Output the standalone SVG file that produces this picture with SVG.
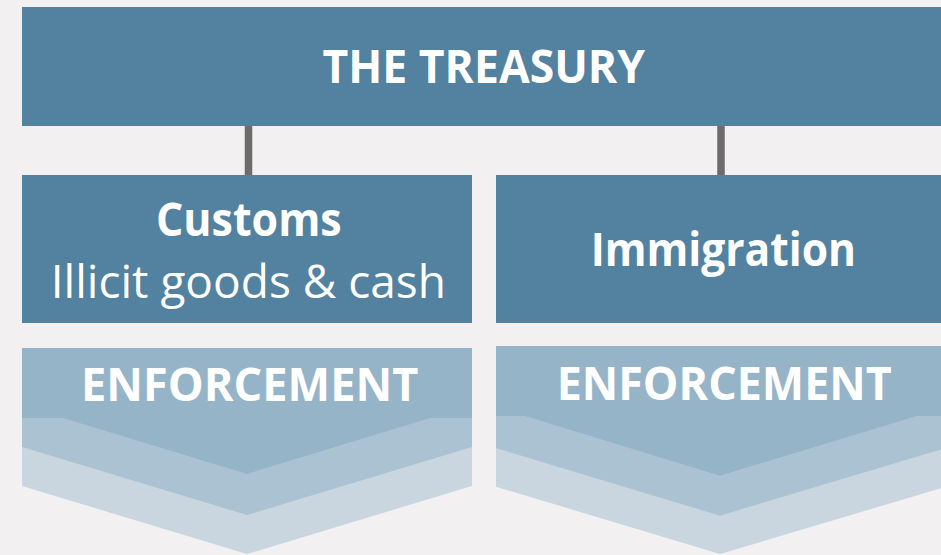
<svg xmlns="http://www.w3.org/2000/svg" width="941" height="555" viewBox="0 0 941 555">
<style>
.box{fill:#52829f}
.conn{stroke:#6e6b6b;stroke-width:7.5;fill:none}
.t{font-family:"Open Sans","Noto Sans","Liberation Sans",sans-serif;fill:#ffffff;font-size:46px}
.b{font-weight:bold}
.dark{fill:#96b4c8}
.mid{fill:#abc2d2}
.light{fill:#c9d6df}
</style>
<rect width="941" height="555" fill="#f2f0f0"/>
<g id="connectors">
<line class="conn" x1="248.5" y1="125" x2="248.5" y2="176"/>
<line class="conn" x1="721" y1="125" x2="721" y2="176"/>
</g>
<g id="treasury">
<rect class="box" x="22" y="7" width="925" height="119"/>
<text class="t b" x="322.5" y="82.7" textLength="322.5" lengthAdjust="spacingAndGlyphs">THE TREASURY</text>
</g>
<g id="customs">
<rect class="box" x="22" y="175" width="450" height="148"/>
<text class="t b" x="156" y="236" textLength="185.7" lengthAdjust="spacingAndGlyphs">Customs</text>
<text class="t" x="50.7" y="298.3" textLength="395.3" lengthAdjust="spacingAndGlyphs">Illicit goods &amp; cash</text>
</g>
<g id="immigration">
<rect class="box" x="496" y="175" width="451" height="148"/>
<text class="t b" x="590.7" y="265.7" textLength="265.3" lengthAdjust="spacingAndGlyphs">Immigration</text>
</g>
<g id="enforcement-left">
<polygon class="light" points="22,348 472,348 472,486 247,554 22,486"/>
<polygon class="mid" points="22,348 472,348 472,447 247,515 22,447"/>
<polygon class="dark" points="22,348 472,348 472,418 430,418 247,474 63,418 22,418"/>
<text class="t b" x="81" y="401" textLength="337.3" lengthAdjust="spacingAndGlyphs">ENFORCEMENT</text>
</g>
<g id="enforcement-right">
<polygon class="light" points="496,346 946,346 946,486.7 720,554 496,486.7"/>
<polygon class="mid" points="496,346 946,346 946,448 720,515.7 496,448"/>
<polygon class="dark" points="496,346 946,346 946,416 916.7,416 720,475.7 525,416 496,416"/>
<text class="t b" x="556.7" y="400" textLength="335" lengthAdjust="spacingAndGlyphs">ENFORCEMENT</text>
</g>
</svg>
